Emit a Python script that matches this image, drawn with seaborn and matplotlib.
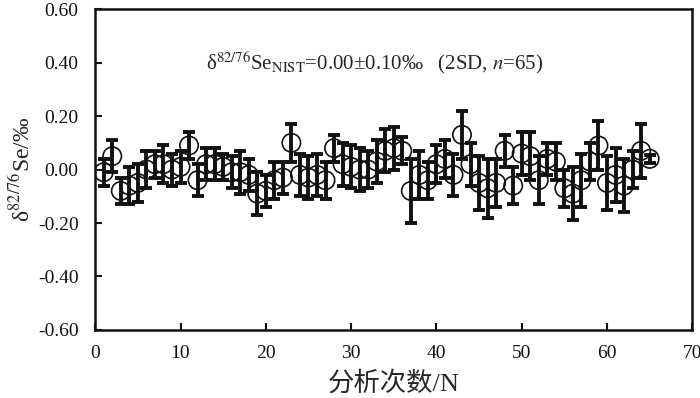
import numpy as np
import pandas as pd
import matplotlib
matplotlib.use("Agg")
import matplotlib.pyplot as plt
import seaborn as sns

# run number 1..65
runs = list(range(1, 66))

# delta 82/76 Se values
delta = [-0.01, 0.05, -0.08, -0.06, -0.05, 0.00, 0.02, 0.02, 0.00, 0.01,
         0.09, -0.04, 0.02, 0.02, 0.01, -0.01, -0.01, -0.02, -0.09, -0.08,
         -0.04, -0.03, 0.10, -0.02, -0.03, -0.02, -0.04, 0.08, 0.02, 0.01,
         0.00, 0.00, 0.03, 0.07, 0.08, 0.07, -0.08, -0.02, -0.04, 0.02,
         0.04, -0.02, 0.13, 0.02, -0.05, -0.07, -0.05, 0.07, -0.06, 0.06,
         0.05, -0.04, 0.04, 0.03, -0.07, -0.09, -0.04, 0.03, 0.09, -0.05,
         -0.02, -0.06, 0.00, 0.07, 0.04]

# 2SD error of each run
err = [0.05, 0.06, 0.05, 0.07, 0.07, 0.07, 0.05, 0.07, 0.06, 0.06,
       0.05, 0.06, 0.06, 0.06, 0.05, 0.06, 0.08, 0.06, 0.08, 0.06,
       0.07, 0.06, 0.07, 0.08, 0.08, 0.08, 0.07, 0.05, 0.08, 0.08,
       0.08, 0.07, 0.08, 0.08, 0.08, 0.05, 0.12, 0.09, 0.07, 0.07,
       0.07, 0.08, 0.09, 0.08, 0.10, 0.11, 0.09, 0.06, 0.07, 0.08,
       0.09, 0.09, 0.06, 0.07, 0.07, 0.10, 0.10, 0.07, 0.09, 0.10,
       0.10, 0.10, 0.07, 0.10, 0.015]

xticks = [0, 10, 20, 30, 40, 50, 60, 70]
yticks = [-0.6, -0.4, -0.2, 0.0, 0.2, 0.4, 0.6]

df = pd.DataFrame({"N": runs, "delta": delta, "err": err})

sns.set_style("ticks")
plt.rcParams["font.family"] = ["Liberation Serif", "Noto Sans CJK SC"]
plt.rcParams["mathtext.fontset"] = "stix"
plt.rcParams["axes.unicode_minus"] = False

fig = plt.figure(figsize=(7, 3.98), dpi=100)
ax = fig.add_axes([0.136, 0.171, 0.853, 0.806])

ax.errorbar(df["N"], df["delta"], yerr=df["err"], fmt="none",
            ecolor="#111111", elinewidth=2.8, capsize=4.5, capthick=2.8, zorder=2)
sns.scatterplot(data=df, x="N", y="delta", ax=ax, s=175, marker="o",
                facecolors="none", edgecolor="#111111", linewidth=1.2, zorder=3)

ax.set_xlim(0, 70)
ax.set_ylim(-0.6, 0.6)
ax.set_xticks(xticks)
ax.set_yticks(yticks)
ax.set_yticklabels([f"{v:.2f}" for v in yticks])
ax.tick_params(direction="in", length=5, width=1.5, labelsize=14, colors="#111111")
ax.tick_params(axis="x", pad=11)
ax.tick_params(axis="y", pad=12)
for s in ax.spines.values():
    s.set_linewidth(1.8)
    s.set_color("#111111")

ax.set_xlabel("分析次数/N", fontsize=19, labelpad=6)
ax.set_ylabel(r"δ$^{82/76}$Se/‰", fontsize=17, labelpad=2)

ax.text(32.8, 0.40, r"δ$^{82/76}$Se$_{\mathrm{NIST}}$=0.00±0.10‰   (2SD, $n$=65)",
        ha="center", va="center", fontsize=15)

fig.savefig("out.png", dpi=100)
